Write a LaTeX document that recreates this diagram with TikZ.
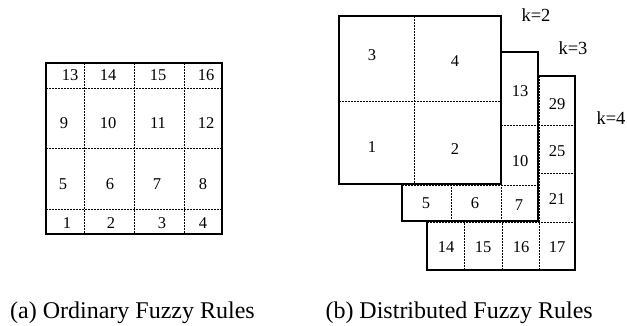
\documentclass[tikz,border=0pt]{standalone}
\usepackage{fontspec}
\setmainfont{Liberation Serif}
\tikzset{
  frame/.style={draw, line width=1.8pt, fill=white},
  divline/.style={line width=0.6pt, dash pattern=on 1.5pt off 1.5pt},
  num/.style={font=\fontsize{16.5}{16.5}\selectfont, inner sep=0pt},
  klab/.style={font=\fontsize{18.5}{18.5}\selectfont, inner sep=0pt},
  capt/.style={font=\fontsize{24}{24}\selectfont, inner sep=0pt}
}
\begin{document}
\begin{tikzpicture}[x=1pt,y=-1pt]
\useasboundingbox (0,0) rectangle (627,325);
% (a) ordinary rules
\draw[frame] (46,63) rectangle (222,234);
\foreach \x in {84,134,184}
\draw[divline] (\x,63)--(\x,234);
\foreach \y in {88,148,209}
\draw[divline] (46,\y)--(222,\y);
\foreach \t/\x/\y in {13/70/75,14/108/75,15/158/75,16/206/75,
  9/64/123,10/108/123,11/158/123,12/206/123,
  5/63/184,6/110/184,7/157/184,8/203/184,
  1/67/223,2/111/223,3/162/223,4/203/223}
\node[num] (a\t) at (\x,\y) {\t};
% (b) distributed rules, k=4 at the back
\draw[frame] (427,76) rectangle (575,270);
\foreach \x in {464,502,539}
\draw[divline] (\x,76)--(\x,270);
\foreach \y in {125,173,222}
\draw[divline] (427,\y)--(575,\y);
\foreach \t/\x/\y in {29/557/104,25/557/151,21/557/199,
  14/446/247,15/483/247,16/521/247,17/557/247}
\node[num] (kd\t) at (\x,\y) {\t};
% k=3
\draw[frame] (402,52) rectangle (538,221);
\foreach \x in {451,501}
\draw[divline] (\x,52)--(\x,221);
\foreach \y in {125,185}
\draw[divline] (402,\y)--(538,\y);
\foreach \t/\x/\y in {13/520/91,10/520/161,5/426/203,6/475/203,7/519/205}
\node[num] (kc\t) at (\x,\y) {\t};
% k=2 on top
\draw[frame] (339,16) rectangle (501,184);
\draw[divline] (414,16)--(414,184);
\draw[divline] (339,101)--(501,101);
\foreach \t/\x/\y in {3/372/55,4/455/61,1/372/147,2/455/149}
\node[num] (kb\t) at (\x,\y) {\t};
\node[klab] (k2) at (536,15) {k=2};
\node[klab] (k3) at (573,48) {k=3};
\node[klab] (k4) at (611,118) {k=4};
\node[capt, anchor=base west] (capa) at (10,318) {(a) Ordinary Fuzzy Rules};
\node[capt, anchor=base east] (capb) at (593,318) {(b) Distributed Fuzzy Rules};
\end{tikzpicture}
\end{document}
